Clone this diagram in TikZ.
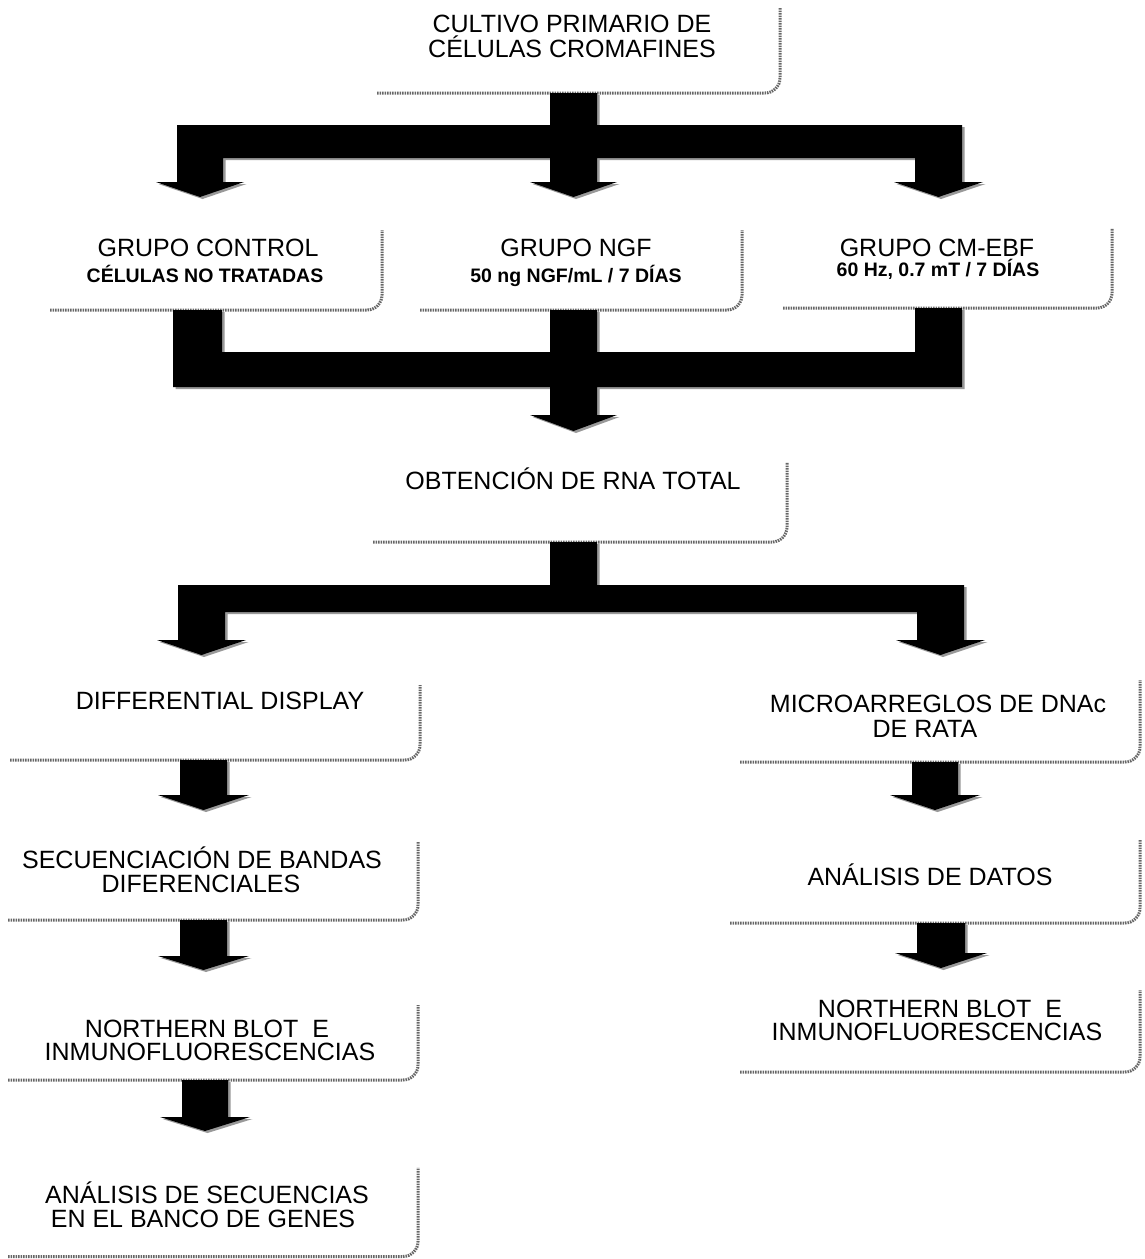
\documentclass[tikz,border=0pt]{standalone}
\usepackage{fontspec}
\setmainfont{Liberation Sans}
\usetikzlibrary{calc}
\tikzset{
  frame/.style={draw=none, inner sep=0pt, outer sep=0pt},
  edge/.style={draw=black!60, line width=3pt, dash pattern=on 1.5pt off 1pt, rounded corners=15pt},
  lbl/.style={inner sep=0pt, anchor=base, font=\fontsize{25}{24}\selectfont},
  sublbl/.style={inner sep=0pt, anchor=base, font=\fontsize{19.5}{24}\selectfont\bfseries},
  blk/.style={fill=black, preaction={fill=black!40, transform canvas={xshift=2.5pt, yshift=-2pt}}},
}
\newcommand\boxedge[1]{\draw[edge] (#1.south west) -- (#1.south east) -- (#1.north east);}
\begin{document}
\begin{tikzpicture}[x=1pt, y=-1pt]
\fill[white] (0,0) rectangle (1144,1259);
\useasboundingbox (0,0) rectangle (1144,1259);

% ---- box frames ----
\node[frame, minimum width=403pt, minimum height=85pt] (b1) at (578.5,50.5) {};
\node[frame, minimum width=332pt, minimum height=80pt] (b2) at (216,270) {};
\node[frame, minimum width=322pt, minimum height=80pt] (b3) at (581,270) {};
\node[frame, minimum width=329pt, minimum height=80pt] (b4) at (947.5,268) {};
\node[frame, minimum width=414pt, minimum height=80pt] (b5) at (580,502) {};
\node[frame, minimum width=410pt, minimum height=75pt] (b6) at (215,722.5) {};
\node[frame, minimum width=410pt, minimum height=78pt] (b7) at (213,881) {};
\node[frame, minimum width=410pt, minimum height=75pt] (b8) at (213,1042.5) {};
\node[frame, minimum width=410pt, minimum height=89pt] (b9) at (213,1212) {};
\node[frame, minimum width=400pt, minimum height=82pt] (b10) at (940,721) {};
\node[frame, minimum width=410pt, minimum height=83pt] (b11) at (935,881.5) {};
\node[frame, minimum width=400pt, minimum height=82pt] (b12) at (940,1031) {};
\foreach \b in {b1,b2,b3,b4,b5,b6,b7,b8,b9,b10,b11,b12} {\boxedge{\b}}

% ---- texts ----
\node[lbl] (t1a) at (572,32) {CULTIVO PRIMARIO DE};
\node[lbl] (t1b) at (572,57) {CÉLULAS CROMAFINES};
\node[lbl] (t2a) at (208,256) {GRUPO CONTROL};
\node[sublbl] (t2b) at (205,282) {CÉLULAS NO TRATADAS};
\node[lbl] (t3a) at (576,256) {GRUPO NGF};
\node[sublbl] (t3b) at (576,282) {50 ng NGF/mL / 7 DÍAS};
\node[lbl] (t4a) at (937,256) {GRUPO CM-EBF};
\node[sublbl] (t4b) at (938,276) {60 Hz, 0.7 mT / 7 DÍAS};
\node[lbl] (t5) at (573,489) {OBTENCIÓN DE RNA TOTAL};
\node[lbl] (t6) at (220,709) {DIFFERENTIAL DISPLAY};
\node[lbl] (t7a) at (202,868) {SECUENCIACIÓN DE BANDAS};
\node[lbl] (t7b) at (201,892) {DIFERENCIALES};
\node[lbl] (t8a) at (207,1037) {NORTHERN BLOT\ \ E};
\node[lbl] (t8b) at (210,1060) {INMUNOFLUORESCENCIAS};
\node[lbl] (t9a) at (207,1203) {ANÁLISIS DE SECUENCIAS};
\node[lbl] (t9b) at (203,1227) {EN EL BANCO DE GENES};
\node[lbl] (t10a) at (938,712) {MICROARREGLOS DE DNAc};
\node[lbl] (t10b) at (925,737) {DE RATA};
\node[lbl] (t11) at (930,885) {ANÁLISIS DE DATOS};
\node[lbl] (t12a) at (940,1017) {NORTHERN BLOT\ \ E};
\node[lbl] (t12b) at (937,1040) {INMUNOFLUORESCENCIAS};

% ---- block arrows ----
% b1 -> b2, b3, b4
\fill[blk] (550,0 |- b1.south) -- (597,0 |- b1.south) -- (597,125) -- (962,125) -- (962,182) -- (983,182)
  -- (938.5,197) -- (894,182) -- (915,182) -- (915,158) -- (597,158) -- (597,182) -- (617,182)
  -- (573.5,197) -- (530,182) -- (550,182) -- (550,158) -- (223,158) -- (223,182) -- (244,182)
  -- (200,197) -- (156,182) -- (177,182) -- (177,125) -- (550,125) -- cycle;
% b2, b3, b4 -> b5
\fill[blk] (173,0 |- b2.south) -- (222,0 |- b2.south) -- (222,352) -- (550,352) -- (550,0 |- b3.south)
  -- (597,0 |- b3.south) -- (597,352) -- (915,352) -- (915,0 |- b4.south) -- (962,0 |- b4.south)
  -- (962,387) -- (597,387) -- (597,415) -- (617,415) -- (573.5,431) -- (530,415) -- (550,415)
  -- (550,387) -- (173,387) -- cycle;
% b5 -> b6, b10
\fill[blk] (550,0 |- b5.south) -- (597,0 |- b5.south) -- (597,585) -- (964,585) -- (964,640) -- (985,640)
  -- (940.5,655) -- (896,640) -- (917,640) -- (917,612) -- (225,612) -- (225,640) -- (246,640)
  -- (201.5,655) -- (157,640) -- (178,640) -- (178,585) -- (550,585) -- cycle;
% b6 -> b7
\fill[blk] (180,0 |- b6.south) -- (227,0 |- b6.south) -- (227,795) -- (249,795) -- (203.5,810)
  -- (158,795) -- (180,795) -- cycle;
% b7 -> b8
\fill[blk] (180,0 |- b7.south) -- (227,0 |- b7.south) -- (227,956) -- (249,956) -- (203.5,970)
  -- (158,956) -- (180,956) -- cycle;
% b8 -> b9
\fill[blk] (182,0 |- b8.south) -- (228,0 |- b8.south) -- (228,1117) -- (250,1117) -- (205,1131)
  -- (160,1117) -- (182,1117) -- cycle;
% b10 -> b11
\fill[blk] (912,0 |- b10.south) -- (958,0 |- b10.south) -- (958,795) -- (980,795) -- (935,810)
  -- (890,795) -- (912,795) -- cycle;
% b11 -> b12
\fill[blk] (917,0 |- b11.south) -- (965,0 |- b11.south) -- (965,953) -- (987,953) -- (941,968)
  -- (895,953) -- (917,953) -- cycle;
\end{tikzpicture}
\end{document}
